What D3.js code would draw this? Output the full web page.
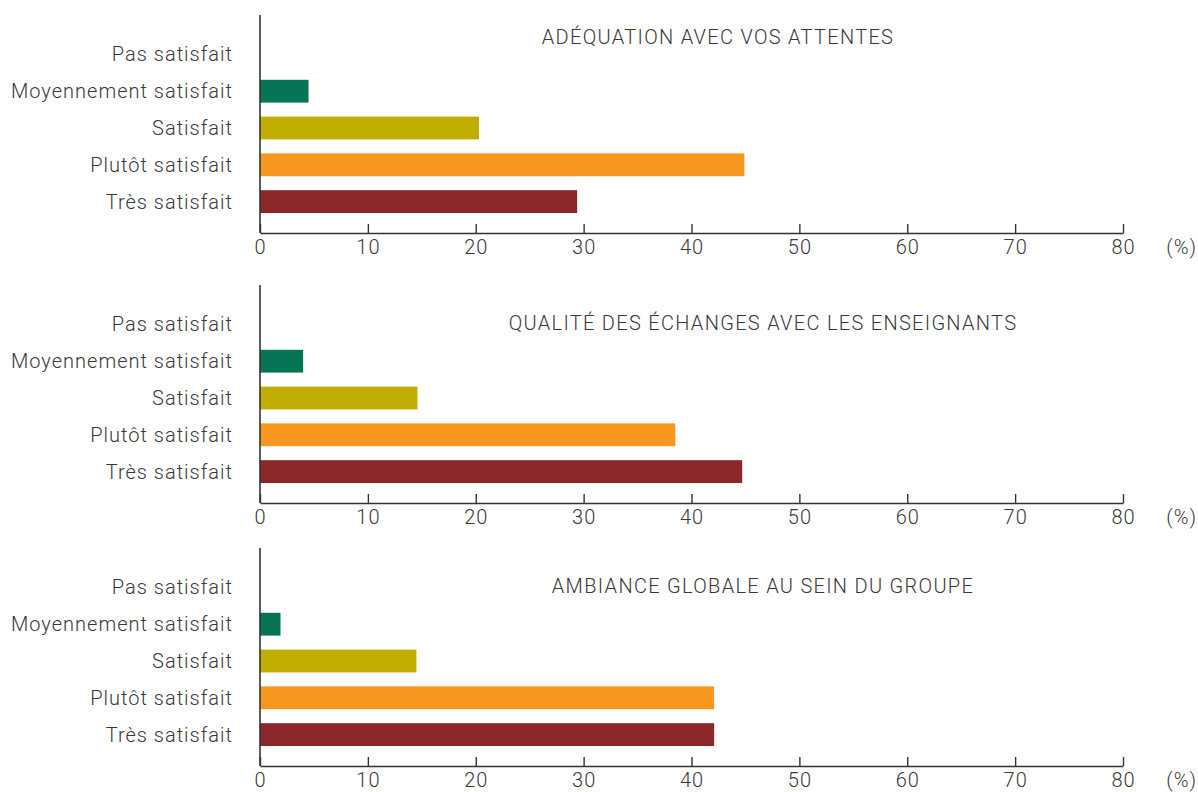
<!DOCTYPE html>
<html>
<head>
<meta charset="utf-8">
<script src="https://cdn.jsdelivr.net/npm/d3@7"></script>
<style>
  body { margin: 0; background: #fff; }
  text { font-family: Roboto, "Noto Sans", sans-serif; fill: #383838; font-size: 20px; font-weight: 300; letter-spacing: 1px; }
  .title { letter-spacing: 1.3px; }
</style>
</head>
<body>
<div id="chart"></div>
<script>

const categories = ["Pas satisfait", "Moyennement satisfait", "Satisfait", "Plutôt satisfait", "Très satisfait"];
const colors = ["#ffffff", "#077455", "#bfae00", "#f7971f", "#8b2629"];

const titles = [
  "ADÉQUATION AVEC VOS ATTENTES",
  "QUALITÉ DES ÉCHANGES AVEC LES ENSEIGNANTS",
  "AMBIANCE GLOBALE AU SEIN DU GROUPE"
];

// percent per category, one array per panel
const attentes = [0, 4.5, 20.3, 44.9, 29.4];
const echanges = [0, 4.0, 14.6, 38.5, 44.7];
const ambiance = [0, 1.9, 14.5, 42.1, 42.1];

const xTicks = [0, 10, 20, 30, 40, 50, 60, 70, 80];

const width = 1198, height = 792;

// layout of the three stacked panels
const panelAxisY = [233, 503, 766];
const titlePos = [[718, 37], [763, 323], [763, 586]];

const svg = d3.select("#chart").append("svg")
  .attr("width", width)
  .attr("height", height);

const x = d3.scaleLinear()
  .domain([0, 80])
  .range([260, 1123]);

const y = d3.scaleBand()
  .domain(categories)
  .range([-197, -13])
  .paddingInner(0.38)
  .paddingOuter(0.19);

const series = [attentes, echanges, ambiance];

series.forEach(function (vals, i) {
  const g = svg.append("g")
    .attr("transform", "translate(0," + panelAxisY[i] + ")");

  const rows = categories.map(function (c, j) {
    return { cat: c, value: vals[j], color: colors[j] };
  });

  g.selectAll("rect")
    .data(rows.filter(d => d.value > 0))
    .enter()
    .append("rect")
    .attr("x", x(0))
    .attr("y", d => y(d.cat))
    .attr("width", d => x(d.value) - x(0))
    .attr("height", y.bandwidth())
    .attr("fill", d => d.color);

  g.selectAll(".cat")
    .data(rows)
    .enter()
    .append("text")
    .attr("class", "cat")
    .attr("x", 233)
    .attr("y", d => y(d.cat) + y.bandwidth() / 2)
    .attr("dy", "0.35em")
    .attr("text-anchor", "end")
    .text(d => d.cat);

  const axis = d3.axisBottom(x)
    .tickValues(xTicks)
    .tickSize(-9)
    .tickSizeOuter(0)
    .tickPadding(7)
    .tickFormat(d3.format("d"));

  const ax = g.append("g").call(axis);
  ax.attr("font-family", null).attr("font-size", null);
  ax.select(".domain").attr("stroke", "#333").attr("stroke-width", 1.6);
  ax.selectAll(".tick line").attr("stroke", "#333").attr("stroke-width", 1.4);
  ax.selectAll(".tick text").attr("fill", null);

  g.append("line")
    .attr("x1", x(0)).attr("x2", x(0))
    .attr("y1", -218).attr("y2", 0)
    .attr("stroke", "#333")
    .attr("stroke-width", 1.6);

  g.append("text")
    .attr("x", 1197)
    .attr("y", 7)
    .attr("dy", "0.71em")
    .attr("text-anchor", "end")
    .text("(%)");

  svg.append("text")
    .attr("class", "title")
    .attr("x", titlePos[i][0])
    .attr("y", titlePos[i][1])
    .attr("dy", "0.35em")
    .attr("text-anchor", "middle")
    .text(titles[i]);
});

</script>
</body>
</html>
